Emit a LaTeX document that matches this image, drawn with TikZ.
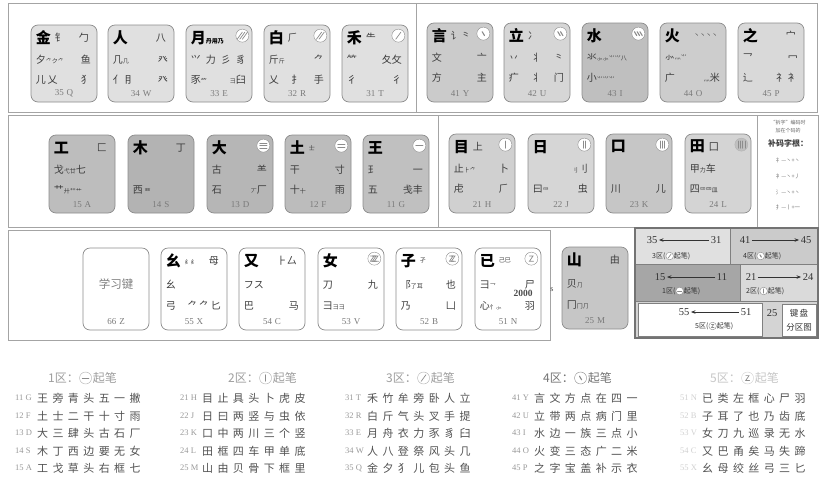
\documentclass[tikz,border=0pt]{standalone}
\usepackage{fontspec}
\setmainfont{Liberation Serif}
\newfontfamily\cjk{Noto Sans CJK SC}
\newfontfamily\cjkls{Noto Sans CJK SC}[LetterSpace=40]
\usetikzlibrary{positioning,arrows.meta}
\definecolor{frame}{HTML}{A4A4A4}
\definecolor{keyline}{HTML}{8C8C8C}
\definecolor{kA}{HTML}{E0E0E0}
\definecolor{kY}{HTML}{CBCBCB}
\definecolor{kU}{HTML}{D6D6D6}
\definecolor{kI}{HTML}{BFBFBF}
\definecolor{kO}{HTML}{CDCDCD}
\definecolor{kP}{HTML}{D9D9D9}
\definecolor{kAA}{HTML}{BDBDBD}
\definecolor{kS}{HTML}{B3B3B3}
\definecolor{kD}{HTML}{B6B6B6}
\definecolor{kF}{HTML}{BCBCBC}
\definecolor{kG}{HTML}{C0C0C0}
\definecolor{kH}{HTML}{D0D0D0}
\definecolor{kJ}{HTML}{D6D6D6}
\definecolor{kK}{HTML}{C6C6C6}
\definecolor{kL}{HTML}{D4D4D4}
\definecolor{kM}{HTML}{C6C6C6}
\definecolor{radc}{HTML}{3C3C3C}
\definecolor{codec}{HTML}{7A7A7A}
\definecolor{zA}{HTML}{E0E0E0}
\definecolor{zB}{HTML}{CBCBCB}
\definecolor{zC}{HTML}{A6A6A6}
\definecolor{zD}{HTML}{DADADA}
\definecolor{zE}{HTML}{D4D4D4}
\newcommand\sm[1]{{\fontsize{6}{6}\selectfont #1}}
% key macro: id, x1, y1, fill, main, row1 rest, row2, row3, code
\newcommand\wkey[9]{%
 \node[keyb, fill=#4, minimum height=\kh pt] (#1) at ({#2+33},{#3+\kh/2}) {};
 \node[maint, anchor=west] (#1m) at ([shift={(5,13)}]#1.north west) {#5};
 \node[radt, anchor=west, text width=34pt] (#1a) at ([shift={(24,13)}]#1.north west) {#6};
 \node[radt, anchor=west, text width=55pt] (#1b) at ([shift={(5,\kb)}]#1.north west) {#7};
 \node[radt, anchor=west, text width=55pt] (#1c) at ([shift={(5,\kc)}]#1.north west) {#8};
 \node[codet] (#1d) at ([shift={(0,-9)}]#1.south) {#9};
}
% stroke icons: name, coordinate, count, radius, extra style
\newcommand\icH[5]{%
 \node[stkc, minimum size=2*#4pt, #5] (#1) at (#2) {};
 \foreach \i in {1,...,#3}{%
  \pgfmathsetmacro\ico{(\i-(#3+1)/2)*0.42*#4}%
  \pgfmathsetmacro\icl{0.55*#4}%
  \draw[stkl] ([shift={(-\icl,\ico)}]#1.center) -- ([shift={(\icl,\ico)}]#1.center);}}
\newcommand\icV[5]{%
 \node[stkc, minimum size=2*#4pt, #5] (#1) at (#2) {};
 \foreach \i in {1,...,#3}{%
  \pgfmathsetmacro\ico{(\i-(#3+1)/2)*0.36*#4}%
  \pgfmathsetmacro\icl{0.55*#4}%
  \draw[stkl] ([shift={(\ico,-\icl)}]#1.center) -- ([shift={(\ico,\icl)}]#1.center);}}
\newcommand\icP[5]{%
 \node[stkc, minimum size=2*#4pt, #5] (#1) at (#2) {};
 \foreach \i in {1,...,#3}{%
  \pgfmathsetmacro\ico{(\i-(#3+1)/2)*0.4*#4}%
  \pgfmathsetmacro\pa{\ico+0.4*#4}\pgfmathsetmacro\pb{\ico-0.4*#4}%
  \pgfmathsetmacro\icl{0.55*#4}%
  \draw[stkl] ([shift={(\pa,-\icl)}]#1.center) -- ([shift={(\pb,\icl)}]#1.center);}}
\newcommand\icD[5]{%
 \node[stkc, minimum size=2*#4pt, #5] (#1) at (#2) {};
 \foreach \i in {1,...,#3}{%
  \pgfmathsetmacro\ico{(\i-(#3+1)/2)*0.42*#4}%
  \pgfmathsetmacro\pa{\ico-0.18*#4}\pgfmathsetmacro\pb{\ico+0.18*#4}%
  \pgfmathsetmacro\icl{0.3*#4}%
  \draw[stkl, line width=1.1pt] ([shift={(\pa,-\icl)}]#1.center) -- ([shift={(\pb,\icl)}]#1.center);}}
\newcommand\icZ[5]{%
 \node[stkc, minimum size=2*#4pt, #5] (#1) at (#2) {};
 \foreach \i in {1,...,#3}{%
  \pgfmathsetmacro\ico{(\i-(#3+1)/2)*0.3*#4}%
  \pgfmathsetmacro\za{\ico-0.3*#4}\pgfmathsetmacro\zb{\ico+0.25*#4}%
  \pgfmathsetmacro\zc{\ico+0.35*#4}\pgfmathsetmacro\zh{0.4*#4}%
  \draw[stkl] ([shift={(\za,-\zh)}]#1.center) -- ([shift={(\zb,-\zh)}]#1.center) -- ([shift={(\za,\zh)}]#1.center) -- ([shift={(\zc,\zh)}]#1.center);}}
% legend row: id, x, y, code, text, extra style
\newcommand\lrow[6]{%
 \node[lcode, anchor=west, #6] (#1c) at (#2,#3) {#4};
 \node[ltext, anchor=west] (#1t) at ({#2+22},#3) {#5};}
\begin{document}
\begin{tikzpicture}[x=1pt,y=-1pt,
  frm/.style={draw=frame, line width=0.6pt},
  keyb/.style={draw=keyline, rounded corners=7pt, line width=0.7pt, minimum width=66pt, inner sep=0pt},
  maint/.style={font=\cjk\bfseries\fontsize{15}{15}\selectfont, inner sep=0pt, text=black},
  radt/.style={font=\cjk\fontsize{10}{10}\selectfont, inner sep=0pt, text=radc},
  codet/.style={font=\fontsize{9}{9}\selectfont, inner sep=0pt, text=codec},
  stkc/.style={circle, draw=keyline, fill=white, inner sep=0pt, line width=0.4pt},
  stkl/.style={draw=black!45, line width=0.7pt, line cap=round},
  lcode/.style={font=\fontsize{8.5}{9}\selectfont, inner sep=0pt, text=black!40},
  ltext/.style={font=\cjkls\fontsize{11}{11}\selectfont, inner sep=0pt, text=black!68},
  hdr/.style={font=\cjk\fontsize{12}{12}\selectfont, inner sep=0pt, text=black!38},
  znum/.style={font=\fontsize{10.5}{10.5}\selectfont, inner sep=0.5pt, text=black!80},
  zlt/.style={font=\cjk\fontsize{7}{7}\selectfont, inner sep=0pt, text=black!80},
  zarr/.style={-{Stealth[length=4.5pt,width=3.5pt]}, line width=0.7pt, draw=black!80, shorten >=1pt, shorten <=1pt},
  zline/.style={draw=black!50, line width=0.6pt}
]
\useasboundingbox (0,0) rectangle (821,488);
\fill[white] (0,0) rectangle (821,488);

% ---------- frames ----------
\draw[frm] (8,3) rectangle (817,112);
\draw[frm] (416,3) -- (416,112);
\draw[frm] (8,115) rectangle (818,227);
\draw[frm] (438,115) -- (438,227);
\draw[frm] (757,115) -- (757,227);
\draw[frm] (8,230) rectangle (550,340);

% ---------- row 1 left (3 zone) ----------
\def\kh{77}\def\kb{35}\def\kc{55}
\wkey{Q}{31}{25}{kA}{金}{钅\hfill 勹}{夕\sm{⺈ク⺈}\hfill 鱼}{儿\,乂\hfill 犭}{35\,\,Q}
\wkey{W}{108}{25}{kA}{人}{\hfill 八}{几\sm{几}\hfill 癶}{亻\,⺝\hfill 癶}{34\,\,W}
\wkey{E}{186}{25}{kA}{月\sm{丹用乃}}{}{⺍\hfill 力\hfill 彡\hfill 豸}{豕\sm{⺮}\hfill\sm{⺕}臼}{33\,\,E}
\wkey{R}{264}{25}{kA}{白}{⺁}{斤\sm{斤}\hfill ⺈}{乂\hfill 扌\hfill 手}{32\,\,R}
\wkey{T}{342}{25}{kA}{禾}{⺧}{⺮\hfill 夂攵}{彳\hfill 彳}{31\,\,T}
\icP{Ei}{[shift={(-10,11)}]E.north east}{3}{6.5}{}
\icP{Ri}{[shift={(-10,11)}]R.north east}{2}{6.5}{}
\icP{Ti}{[shift={(-10,11)}]T.north east}{1}{6.5}{}

% ---------- row 1 right (4 zone) ----------
\def\kh{79}
\wkey{Y}{427}{23}{kY}{言}{讠⺀}{文\hfill 亠}{方\hfill 主}{41\,\,Y}
\wkey{U}{504}{23}{kU}{立}{冫}{丷\hfill 丬\hfill ⺀}{疒\hfill 丬\hfill 门}{42\,\,U}
\wkey{I}{582}{23}{kI}{水}{}{氺\sm{⺗⺗⺌⺍八}}{小\sm{⺌⺍⺌}}{43\,\,I}
\wkey{O}{660}{23}{kO}{火}{\hfill\sm{丶丶丶丶}}{⺗\sm{灬⺌}}{广\hfill\sm{⺣}米}{44\,\,O}
\wkey{P}{738}{23}{kP}{之}{\hfill 宀}{乛\hfill 冖}{辶\hfill 礻\,衤}{45\,\,P}
\icD{Yi}{[shift={(-10,11)}]Y.north east}{1}{6.5}{}
\icD{Ui}{[shift={(-10,11)}]U.north east}{2}{6.5}{}
\icD{Ii}{[shift={(-10,11)}]I.north east}{3}{6.5}{}

% ---------- row 2 left (1 zone) ----------
\def\kh{78}
\wkey{A}{49}{135}{kAA}{工}{\hfill 匚}{戈\sm{弋廿}七}{艹\sm{廾⺿⺾}}{15\,\,A}
\wkey{S}{128}{135}{kS}{木}{\hfill 丁}{}{西\,\sm{覀}}{14\,\,S}
\wkey{D}{207}{135}{kD}{大}{}{古\hfill ⺷}{石\hfill\sm{丆}厂}{13\,\,D}
\wkey{F}{285}{135}{kF}{土}{\sm{士}}{干\hfill 寸}{十\sm{十}\hfill 雨}{12\,\,F}
\wkey{G}{363}{135}{kG}{王}{}{⺩\hfill 一}{五\hfill 戋丰}{11\,\,G}
\icH{Di}{[shift={(-10,11)}]D.north east}{3}{6.5}{}
\icH{Fi}{[shift={(-10,11)}]F.north east}{2}{6.5}{}
\icH{Gi}{[shift={(-10,11)}]G.north east}{1}{6.5}{}

% ---------- row 2 right (2 zone) ----------
\def\kh{79}
\wkey{H}{449}{134}{kH}{目}{上}{止\sm{⺊⺈}\hfill 卜}{虍\hfill ⺁}{21\,\,H}
\wkey{J}{528}{134}{kJ}{日}{}{\hfill\sm{刂}刂}{曰\sm{⺜}\hfill 虫}{22\,\,J}
\wkey{K}{606}{134}{kK}{口}{}{}{川\hfill 儿}{23\,\,K}
\wkey{L}{685}{134}{kL}{田}{囗}{甲\sm{力}车}{四\sm{罒⺲皿}}{24\,\,L}
\icV{Hi}{[shift={(-10,11)}]H.north east}{1}{6.5}{}
\icV{Ji}{[shift={(-10,11)}]J.north east}{2}{6.5}{}
\icV{Ki}{[shift={(-10,11)}]K.north east}{3}{6.5}{}
\icV{Li}{[shift={(-10,11)}]L.north east}{4}{6.5}{fill=black!25, draw=black!30}

% ---------- supplementary roots panel ----------
\node[font=\cjk\fontsize{5}{5}\selectfont, text=black!60, inner sep=0pt] (bm1) at (788,123) {“拆字”编码时};
\node[font=\cjk\fontsize{5}{5}\selectfont, text=black!60, inner sep=0pt] (bm2) at (788,131) {加在个码的};
\node[font=\cjk\bfseries\fontsize{8}{8}\selectfont, text=black!75, inner sep=0pt] (bm3) at (788,143) {补码字根：};
\node[font=\cjk\fontsize{5.5}{6}\selectfont, text=black!55, inner sep=0pt] (bm4) at (788,160) {礻—丶+丶};
\node[font=\cjk\fontsize{5.5}{6}\selectfont, text=black!55, inner sep=0pt] (bm5) at (788,176) {衤—丶+丿};
\node[font=\cjk\fontsize{5.5}{6}\selectfont, text=black!55, inner sep=0pt] (bm6) at (788,192) {氵—丶+丶};
\node[font=\cjk\fontsize{5.5}{6}\selectfont, text=black!55, inner sep=0pt] (bm7) at (788,207) {扌—丨+一};

% ---------- row 3 (5 zone) ----------
\def\kh{82}\def\kb{37}\def\kc{58}
\wkey{Z}{83}{248}{white}{}{}{}{}{66\,\,Z}
\node[font=\cjk\fontsize{11.5}{11.5}\selectfont, text=black!50, inner sep=0pt] (Zx) at ([shift={(0,-5)}]Z.center) {学习键};
\wkey{X}{161}{248}{white}{幺}{\sm{纟纟}\hfill 母}{⺓}{弓\hfill ⺈\,⺈\,匕}{55\,\,X}
\wkey{C}{239}{248}{white}{又}{\hfill ⺊厶}{フス}{巴\hfill 马}{54\,\,C}
\wkey{V}{318}{248}{white}{女}{}{刀\hfill 九}{彐\sm{⺕⺕}}{53\,\,V}
\wkey{B}{396}{248}{white}{子}{\sm{孑}}{⻏\sm{了耳}\hfill 也}{乃\hfill 凵}{52\,\,B}
\wkey{N}{475}{248}{white}{已}{\sm{己巳}}{⺕\sm{乛}\hfill 尸}{心\sm{忄⺗}\hfill 羽}{51\,\,N}
\icZ{Vi}{[shift={(-10,11)}]V.north east}{3}{6.5}{}
\icZ{Bi}{[shift={(-10,11)}]B.north east}{2}{6.5}{}
\icZ{Ni}{[shift={(-10,11)}]N.north east}{1}{6.5}{}
\node[font=\bfseries\fontsize{9.5}{9.5}\selectfont, text=black!70, inner sep=0pt] (yr) at (523,293) {2000};
\node[font=\fontsize{8}{8}\selectfont, text=black!70, inner sep=0pt] (ss) at (552,290) {s};
\wkey{M}{562}{247}{kM}{山}{\hfill 由}{贝\sm{⺆}}{冂\sm{冂⺆}}{25\,\,M}

% ---------- zone diagram ----------
\fill[zA] (635,228) rectangle (730,264);
\fill[zB] (730,228) rectangle (818,264);
\fill[zC] (635,264) rectangle (740,301);
\fill[zD] (740,264) rectangle (818,301);
\fill[zE] (635,301) rectangle (818,338);
\draw[zline] (730,228) -- (730,264);
\draw[zline] (635,264) -- (818,264);
\draw[zline] (740,264) -- (740,301);
\draw[zline] (635,301) -- (818,301);
\draw[zline, fill=white] (638,303) rectangle (762,336);
\draw[zline, fill=white] (782,304) rectangle (816,336);
\draw[draw=black!55, line width=1.2pt] (635,228) rectangle (818,338);

\node[znum] (z35) at (652,240) {35};
\node[znum] (z31) at (716,240) {31};
\draw[zarr] (z31) -- (z35);
\node[znum] (z41) at (745,240) {41};
\node[znum] (z45) at (806,240) {45};
\draw[zarr] (z41) -- (z45);
\node[znum] (z15) at (660,277) {15};
\node[znum] (z11) at (722,277) {11};
\draw[zarr] (z11) -- (z15);
\node[znum] (z21) at (751,277) {21};
\node[znum] (z24) at (808,277) {24};
\draw[zarr] (z21) -- (z24);
\node[znum] (z55) at (684,312) {55};
\node[znum] (z51) at (746,312) {51};
\draw[zarr] (z51) -- (z55);
\node[znum] (z25) at (772,313) {25};
\node[font=\cjk\fontsize{8.5}{8.5}\selectfont, text=black!80, inner sep=0pt] (kb1) at (799,313) {键\,盘};
\node[font=\cjk\fontsize{8.5}{8.5}\selectfont, text=black!80, inner sep=0pt] (kb2) at (799,327) {分区图};

\node[zlt, anchor=west] (z3a) at (652,256) {3区(};
\icP{z3i}{[xshift=4pt]z3a.east}{1}{3.8}{}
\node[zlt, anchor=west] (z3b) at ([xshift=4pt]z3i.center) {起笔)};
\node[zlt, anchor=west] (z4a) at (743,256) {4区(};
\icD{z4i}{[xshift=4pt]z4a.east}{1}{3.8}{}
\node[zlt, anchor=west] (z4b) at ([xshift=4pt]z4i.center) {起笔)};
\node[zlt, anchor=west] (z1a) at (662,291) {1区(};
\icH{z1i}{[xshift=4pt]z1a.east}{1}{3.8}{}
\node[zlt, anchor=west] (z1b) at ([xshift=4pt]z1i.center) {起笔)};
\node[zlt, anchor=west] (z2a) at (746,291) {2区(};
\icV{z2i}{[xshift=4pt]z2a.east}{1}{3.8}{}
\node[zlt, anchor=west] (z2b) at ([xshift=4pt]z2i.center) {起笔)};
\node[zlt, anchor=west] (z5a) at (695,326) {5区(};
\icZ{z5i}{[xshift=4pt]z5a.east}{1}{3.8}{}
\node[zlt, anchor=west] (z5b) at ([xshift=4pt]z5i.center) {起笔)};

% ---------- legend ----------
\node[hdr, anchor=west] (h1a) at (48,378) {1区：};
\icH{h1i}{[xshift=6.5pt]h1a.east}{1}{6}{draw=black!30}
\node[hdr, anchor=west] (h1b) at ([xshift=7pt]h1i.center) {起笔};
\node[hdr, anchor=west] (h2a) at (228,378) {2区：};
\icV{h2i}{[xshift=6.5pt]h2a.east}{1}{6}{draw=black!30}
\node[hdr, anchor=west] (h2b) at ([xshift=7pt]h2i.center) {起笔};
\node[hdr, anchor=west] (h3a) at (386,378) {3区：};
\icP{h3i}{[xshift=6.5pt]h3a.east}{1}{6}{draw=black!30}
\node[hdr, anchor=west] (h3b) at ([xshift=7pt]h3i.center) {起笔};
\node[hdr, anchor=west, text=black!55] (h4a) at (543,378) {4区：};
\icD{h4i}{[xshift=6.5pt]h4a.east}{1}{6}{draw=black!45}
\node[hdr, anchor=west, text=black!55] (h4b) at ([xshift=7pt]h4i.center) {起笔};
\node[hdr, anchor=west, text=black!22] (h5a) at (710,378) {5区：};
\icZ{h5i}{[xshift=6.5pt]h5a.east}{1}{6}{draw=black!18}
\node[hdr, anchor=west, text=black!22] (h5b) at ([xshift=7pt]h5i.center) {起笔};

\lrow{a1}{15}{398}{11 G}{王旁青头五一撇}{}
\lrow{a2}{15}{416}{12 F}{土士二干十寸雨}{}
\lrow{a3}{15}{433}{13 D}{大三肆头古石厂}{}
\lrow{a4}{15}{451}{14 S}{木丁西边要无女}{}
\lrow{a5}{15}{468}{15 A}{工戈草头右框七}{}
\lrow{b1}{180}{398}{21 H}{目止具头卜虎皮}{}
\lrow{b2}{180}{416}{22 J}{日曰两竖与虫依}{}
\lrow{b3}{180}{433}{23 K}{口中两川三个竖}{}
\lrow{b4}{180}{451}{24 L}{田框四车甲单底}{}
\lrow{b5}{180}{468}{25 M}{山由贝骨下框里}{}
\lrow{c1}{345}{398}{31 T}{禾竹牟旁卧人立}{}
\lrow{c2}{345}{416}{32 R}{白斤气头叉手提}{}
\lrow{c3}{345}{433}{33 E}{月舟衣力豕豸臼}{}
\lrow{c4}{345}{451}{34 W}{人八登祭风头几}{}
\lrow{c5}{345}{468}{35 Q}{金夕犭儿包头鱼}{}
\lrow{d1}{512}{398}{41 Y}{言文方点在四一}{}
\lrow{d2}{512}{416}{42 U}{立带两点病门里}{}
\lrow{d3}{512}{433}{43 I}{水边一族三点小}{}
\lrow{d4}{512}{451}{44 O}{火变三态广二米}{}
\lrow{d5}{512}{468}{45 P}{之字宝盖补示衣}{}
\lrow{e1}{680}{398}{51 N}{已类左框心尸羽}{text=black!18}
\lrow{e2}{680}{416}{52 B}{子耳了也乃齿底}{text=black!18}
\lrow{e3}{680}{433}{53 V}{女刀九巡录无水}{text=black!18}
\lrow{e4}{680}{451}{54 C}{又巴甬矣马失蹄}{text=black!18}
\lrow{e5}{680}{468}{55 X}{幺母绞丝弓三匕}{text=black!18}
\end{tikzpicture}
\end{document}
